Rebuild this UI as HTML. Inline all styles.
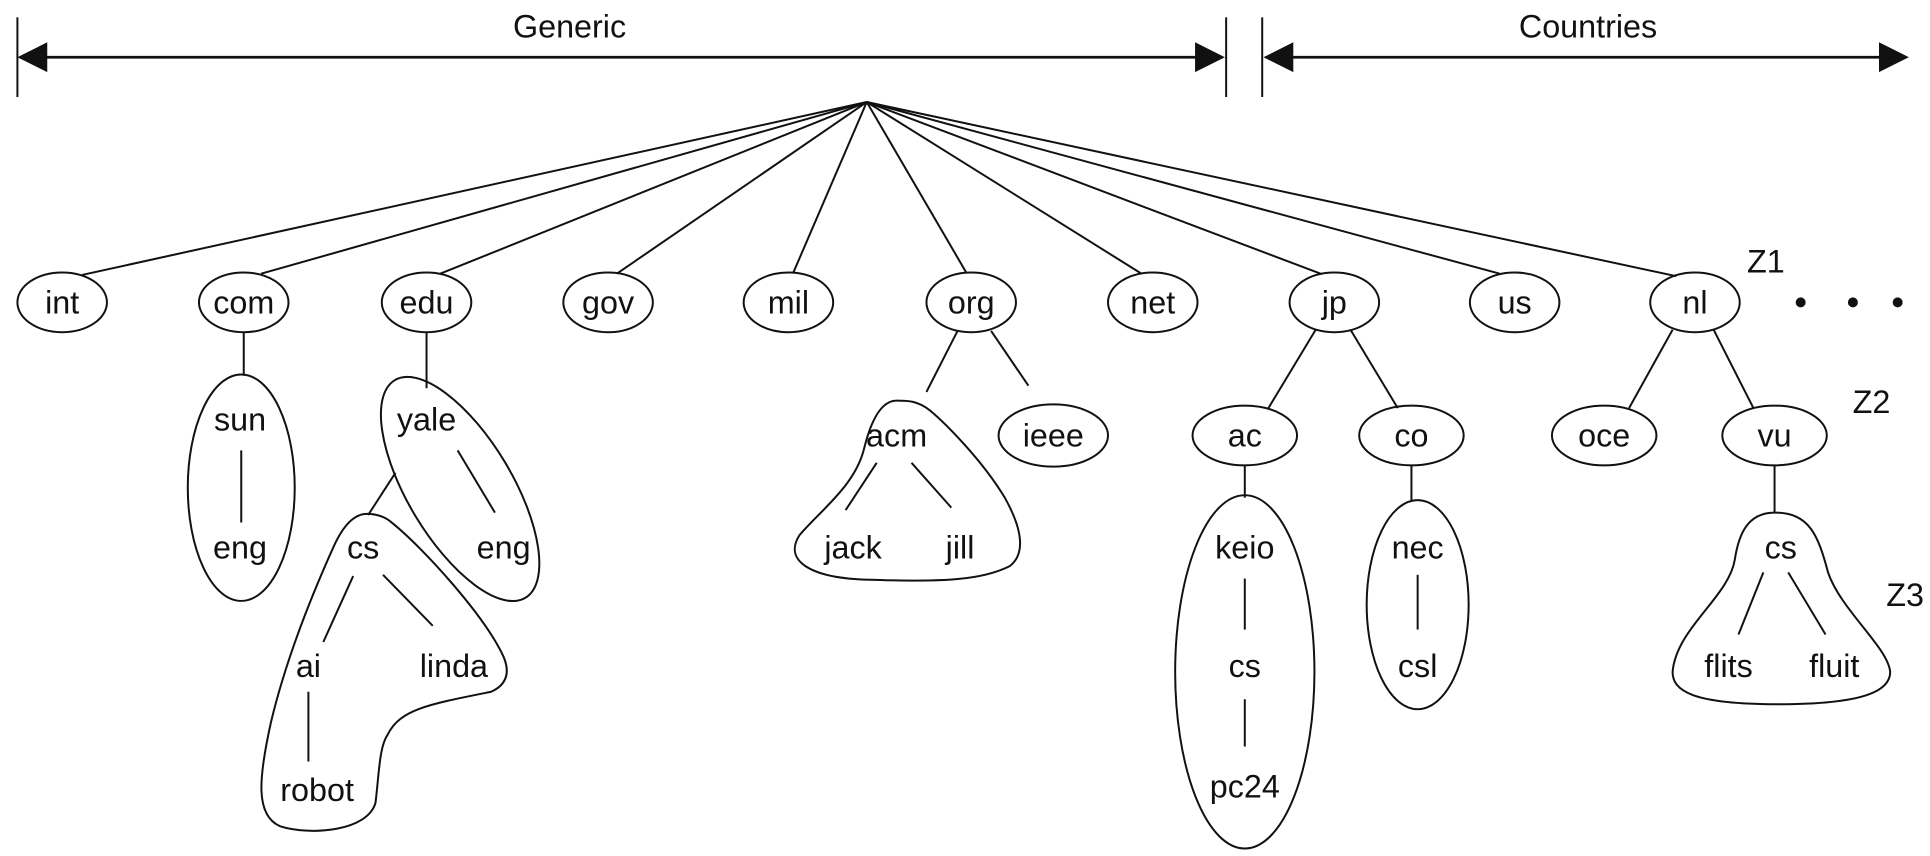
<!DOCTYPE html>
<html><head><meta charset="utf-8"><style>
html,body{margin:0;padding:0;background:#fff;}
svg{display:block;}
text{font-family:"Liberation Sans",sans-serif;font-size:26px;fill:#111;text-anchor:middle;}
</style></head><body>
<svg width="1930" height="856" viewBox="0 0 1552 688" preserveAspectRatio="none" xmlns="http://www.w3.org/2000/svg">
<g stroke="#111" stroke-width="1.6" fill="none">
<line x1="14" y1="14" x2="14" y2="78"/>
<line x1="986" y1="14" x2="986" y2="78"/>
<line x1="1015" y1="14" x2="1015" y2="78"/>
<line x1="30" y1="46" x2="968" y2="46" stroke-width="2.2"/>
<line x1="1032" y1="46" x2="1518" y2="46" stroke-width="2.2"/>
</g>
<g fill="#111">
<polygon points="14,46 38,34 38,58"/>
<polygon points="985,46 961,34 961,58"/>
<polygon points="1016,46 1040,34 1040,58"/>
<polygon points="1535,46 1511,34 1511,58"/>
<circle cx="1448" cy="243" r="4"/><circle cx="1490" cy="243" r="4"/><circle cx="1526" cy="243" r="4"/>
</g>
<text x="458" y="30">Generic</text>
<text x="1277" y="30">Countries</text>
<g stroke="#111" stroke-width="1.6" fill="none">
<line x1="697" y1="82" x2="66" y2="221"/>
<line x1="697" y1="82" x2="210" y2="220"/>
<line x1="697" y1="82" x2="354" y2="220"/>
<line x1="697" y1="82" x2="496" y2="220"/>
<line x1="697" y1="82" x2="638" y2="219"/>
<line x1="697" y1="82" x2="777" y2="219"/>
<line x1="697" y1="82" x2="918" y2="220"/>
<line x1="697" y1="82" x2="1062" y2="220"/>
<line x1="697" y1="82" x2="1206" y2="220"/>
<line x1="697" y1="82" x2="1348" y2="222"/>
<ellipse cx="50" cy="243" rx="36" ry="24"/>
<ellipse cx="196" cy="243" rx="36" ry="24"/>
<ellipse cx="343" cy="243" rx="36" ry="24"/>
<ellipse cx="489" cy="243" rx="36" ry="24"/>
<ellipse cx="634" cy="243" rx="36" ry="24"/>
<ellipse cx="781" cy="243" rx="36" ry="24"/>
<ellipse cx="927" cy="243" rx="36" ry="24"/>
<ellipse cx="1073" cy="243" rx="36" ry="24"/>
<ellipse cx="1218" cy="243" rx="36" ry="24"/>
<ellipse cx="1363" cy="243" rx="36" ry="24"/>
<line x1="196" y1="267" x2="196" y2="302"/>
<ellipse cx="194" cy="392" rx="43" ry="91"/>
<line x1="194" y1="362" x2="194" y2="420"/>
<line x1="343" y1="267" x2="343" y2="312"/>
<ellipse cx="370" cy="393" rx="102" ry="42" transform="rotate(59 370 393)"/>
<line x1="368" y1="362" x2="398" y2="412"/>
<line x1="318" y1="380" x2="296" y2="414"/>
<path d="M295,413 C285,413 276,422 268,440 C250,480 230,530 218,580 C208,625 205,655 225,664 C250,672 296,668 302,645 C305,620 305,600 312,590 C322,570 345,566 395,556 C408,550 410,540 405,528 C390,495 340,440 315,420 C308,414 300,413 295,413 Z"/>
<line x1="284" y1="463" x2="260" y2="516"/>
<line x1="308" y1="462" x2="348" y2="503"/>
<line x1="248" y1="556" x2="248" y2="612"/>
<line x1="770" y1="266" x2="745" y2="315"/>
<line x1="797" y1="266" x2="827" y2="310"/>
<ellipse cx="847" cy="350" rx="44" ry="25"/>
<path d="M721,322 C708,322 700,340 695,360 C688,390 660,410 643,430 C630,450 650,465 700,466 C760,468 790,466 812,455 C825,445 822,425 808,400 C790,370 760,340 748,330 C738,322 730,322 721,322 Z"/>
<line x1="705" y1="372" x2="680" y2="410"/>
<line x1="733" y1="372" x2="765" y2="408"/>
<line x1="1058" y1="265" x2="1020" y2="328"/>
<line x1="1086" y1="265" x2="1124" y2="328"/>
<ellipse cx="1001" cy="350" rx="42" ry="24"/>
<ellipse cx="1135" cy="350" rx="42" ry="24"/>
<line x1="1001" y1="374" x2="1001" y2="400"/>
<ellipse cx="1001" cy="540" rx="56" ry="142"/>
<line x1="1001" y1="465" x2="1001" y2="506"/>
<line x1="1001" y1="562" x2="1001" y2="600"/>
<line x1="1135" y1="374" x2="1135" y2="402"/>
<ellipse cx="1140" cy="486" rx="41" ry="84"/>
<line x1="1140" y1="462" x2="1140" y2="506"/>
<line x1="1345" y1="265" x2="1310" y2="328"/>
<line x1="1378" y1="265" x2="1410" y2="328"/>
<ellipse cx="1290" cy="350" rx="42" ry="24"/>
<ellipse cx="1427" cy="350" rx="42" ry="24"/>
<line x1="1427" y1="374" x2="1427" y2="412"/>
<path d="M1427,412 C1405,412 1398,430 1395,450 C1390,480 1348,505 1345,540 C1345,555 1360,566 1430,566 C1500,566 1520,555 1520,540 C1518,520 1480,490 1470,460 C1462,430 1455,412 1427,412 Z"/>
<line x1="1418" y1="460" x2="1398" y2="510"/>
<line x1="1438" y1="460" x2="1468" y2="510"/>
</g>
<text x="50" y="252">int</text>
<text x="196" y="252">com</text>
<text x="343" y="252">edu</text>
<text x="489" y="252">gov</text>
<text x="634" y="252">mil</text>
<text x="781" y="252">org</text>
<text x="927" y="252">net</text>
<text x="1073" y="252">jp</text>
<text x="1218" y="252">us</text>
<text x="1363" y="252">nl</text>
<text x="1420" y="219">Z1</text>
<text x="1505" y="332">Z2</text>
<text x="1532" y="487">Z3</text>
<text x="193" y="346">sun</text>
<text x="193" y="449">eng</text>
<text x="343" y="346">yale</text>
<text x="405" y="449">eng</text>
<text x="292" y="449">cs</text>
<text x="248" y="544">ai</text>
<text x="365" y="544">linda</text>
<text x="255" y="644">robot</text>
<text x="721" y="359">acm</text>
<text x="847" y="359">ieee</text>
<text x="686" y="449">jack</text>
<text x="772" y="449">jill</text>
<text x="1001" y="359">ac</text>
<text x="1135" y="359">co</text>
<text x="1001" y="449">keio</text>
<text x="1001" y="544">cs</text>
<text x="1001" y="641">pc24</text>
<text x="1140" y="449">nec</text>
<text x="1140" y="544">csl</text>
<text x="1290" y="359">oce</text>
<text x="1427" y="359">vu</text>
<text x="1432" y="449">cs</text>
<text x="1390" y="544">flits</text>
<text x="1475" y="544">fluit</text>
</svg>
</body></html>
